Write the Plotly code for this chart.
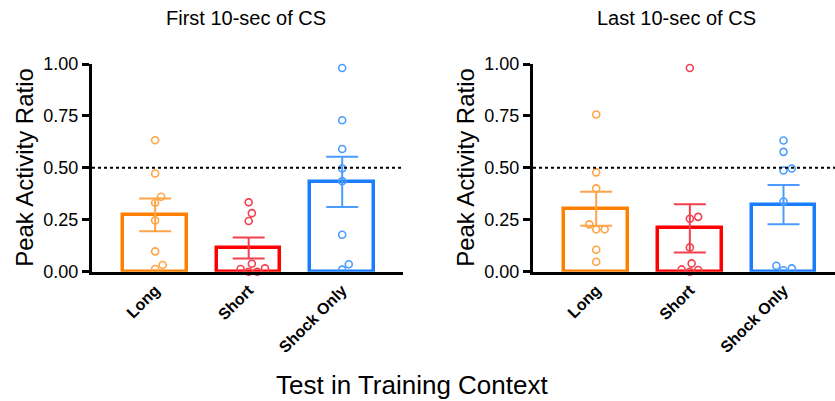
import numpy as np
import plotly.graph_objects as go

# ---------------- data ----------------
categories = ["Long", "Short", "Shock Only"]
panel_titles = ["First 10-sec of CS", "Last 10-sec of CS"]
y_title = "Peak Activity Ratio"
x_title = "Test in Training Context"

first_long = [0.633, 0.473, 0.361, 0.332, 0.247, 0.098, 0.032, 0.013]
first_short = [0.334, 0.282, 0.244, 0.038, 0.016, 0.013, 0.0, 0.0]
first_shock = [0.981, 0.729, 0.591, 0.497, 0.436, 0.178, 0.036, 0.010]
first_mean = [0.274, 0.114, 0.432]
first_sem = [0.079, 0.051, 0.121]

last_long = [0.757, 0.478, 0.401, 0.228, 0.204, 0.204, 0.106, 0.048]
last_short = [0.981, 0.264, 0.255, 0.117, 0.040, 0.011, 0.008, 0.0]
last_shock = [0.632, 0.577, 0.497, 0.487, 0.338, 0.029, 0.016, 0.007]
last_mean = [0.303, 0.209, 0.323]
last_sem = [0.082, 0.116, 0.094]

y_ticks = [0.0, 0.25, 0.5, 0.75, 1.0]
chance_level = 0.5

bar_colors = ["#FF8000", "#FF0000", "#1A7DFF"]
light_colors = ["#FFA447", "#F2404E", "#4A9CFF"]

# ---------------- layout geometry ----------------
W, H = 835, 401
FONT = "Liberation Sans, Arial, sans-serif"
left_px = (92, 403)
right_px = (533, 835)
top_px, bottom_px = 64, 271.7
x_ranges = [[-0.675, 2.65], [-0.675, 2.55]]
y_range = [0, 1.0]

px_per_x = (left_px[1] - left_px[0]) / (x_ranges[0][1] - x_ranges[0][0])
px_per_y = (bottom_px - top_px) / (y_range[1] - y_range[0])


def beeswarm(values, d=8.5):
    """Compute horizontal offsets (data units) so circles don't overlap."""
    order = np.argsort(values)
    placed = []  # (x_px, y_px)
    offs = np.zeros(len(values))
    for i in order:
        y = values[i] * px_per_y
        cands = [0.0]
        for (px, py) in placed:
            dy = abs(py - y)
            if dy < d:
                dx = np.sqrt(d * d - dy * dy)
                cands += [px + dx, px - dx]
        cands = sorted(cands, key=lambda c: (abs(c), -c))
        for c in cands:
            if all((c - px) ** 2 + (y - py) ** 2 >= d * d - 1e-6 for px, py in placed):
                offs[i] = c
                placed.append((c, y))
                break
    return offs / px_per_x


fig = go.Figure()

panels = [
    ([first_long, first_short, first_shock], first_mean, first_sem, "x", "y"),
    ([last_long, last_short, last_shock], last_mean, last_sem, "x2", "y2"),
]

for groups, means, sems, xa, ya in panels:
    for k in range(3):
        fig.add_trace(go.Bar(
            x=[k], y=[means[k]], width=0.68,
            marker=dict(color="rgba(255,255,255,0)",
                        line=dict(color=bar_colors[k], width=3.5)),
            error_y=dict(type="data", array=[sems[k]], visible=True,
                         color=light_colors[k], thickness=2, width=16),
            xaxis=xa, yaxis=ya, showlegend=False, hoverinfo="y",
        ))
    for k, vals in enumerate(groups):
        vals = np.array(vals, dtype=float)
        xs = k + beeswarm(vals)
        fig.add_trace(go.Scatter(
            x=xs, y=vals, mode="markers",
            marker=dict(symbol="circle-open", size=7, color=light_colors[k],
                        line=dict(width=1.6, color=light_colors[k])),
            cliponaxis=False, xaxis=xa, yaxis=ya, showlegend=False,
        ))

ydom = [(H - bottom_px) / H, (H - top_px) / H]
ymid = 1 - ((top_px + bottom_px) / 2) / H

axis_common_x = dict(
    tickvals=[0, 1, 2], ticktext=[f"<b>{c}</b>" for c in categories],
    tickangle=-45, tickfont=dict(family=FONT, size=16, color="black"),
    showline=True, linecolor="black", linewidth=3, ticks="",
    showgrid=False, zeroline=False, automargin=False,
)
axis_common_y = dict(
    range=y_range, tickvals=y_ticks, tickformat=".2f",
    tickfont=dict(family=FONT, size=18, color="black"),
    showline=True, linecolor="black", linewidth=3,
    ticks="outside", ticklen=7, tickwidth=2.5, tickcolor="black",
    showgrid=False, zeroline=False, automargin=False,
)

fig.update_layout(
    width=W, height=H,
    margin=dict(l=0, r=0, t=0, b=0),
    paper_bgcolor="white", plot_bgcolor="white",
    font=dict(family=FONT, color="black"),
    bargap=0,
    xaxis=dict(domain=[left_px[0] / W, left_px[1] / W], range=x_ranges[0], anchor="y", **axis_common_x),
    yaxis=dict(domain=ydom, anchor="x", **axis_common_y),
    xaxis2=dict(domain=[right_px[0] / W, right_px[1] / W], range=x_ranges[1], anchor="y2", **axis_common_x),
    yaxis2=dict(domain=ydom, anchor="x2", **axis_common_y),
    shapes=[
        dict(type="line", xref="x domain", yref="y", x0=0, x1=1,
             y0=chance_level, y1=chance_level,
             line=dict(color="black", width=2, dash="dot")),
        dict(type="line", xref="x2 domain", yref="y2", x0=0, x1=1,
             y0=chance_level, y1=chance_level,
             line=dict(color="black", width=2, dash="dot")),
    ],
    annotations=[
        dict(text=panel_titles[0], x=246 / W, y=1 - 18 / H, xref="paper", yref="paper",
             showarrow=False, font=dict(family=FONT, size=20, color="black"),
             xanchor="center", yanchor="middle"),
        dict(text=panel_titles[1], x=676 / W, y=1 - 18 / H, xref="paper", yref="paper",
             showarrow=False, font=dict(family=FONT, size=20, color="black"),
             xanchor="center", yanchor="middle"),
        dict(text=y_title, x=25 / W, y=ymid, xref="paper", yref="paper",
             textangle=-90, showarrow=False,
             font=dict(family=FONT, size=24, color="black"),
             xanchor="center", yanchor="middle"),
        dict(text=y_title, x=466 / W, y=ymid, xref="paper", yref="paper",
             textangle=-90, showarrow=False,
             font=dict(family=FONT, size=24, color="black"),
             xanchor="center", yanchor="middle"),
        dict(text=x_title, x=412 / W, y=1 - 385 / H,
             xref="paper", yref="paper", showarrow=False,
             font=dict(family=FONT, size=26, color="black"),
             xanchor="center", yanchor="middle"),
    ],
)

fig.write_html("out.html")
